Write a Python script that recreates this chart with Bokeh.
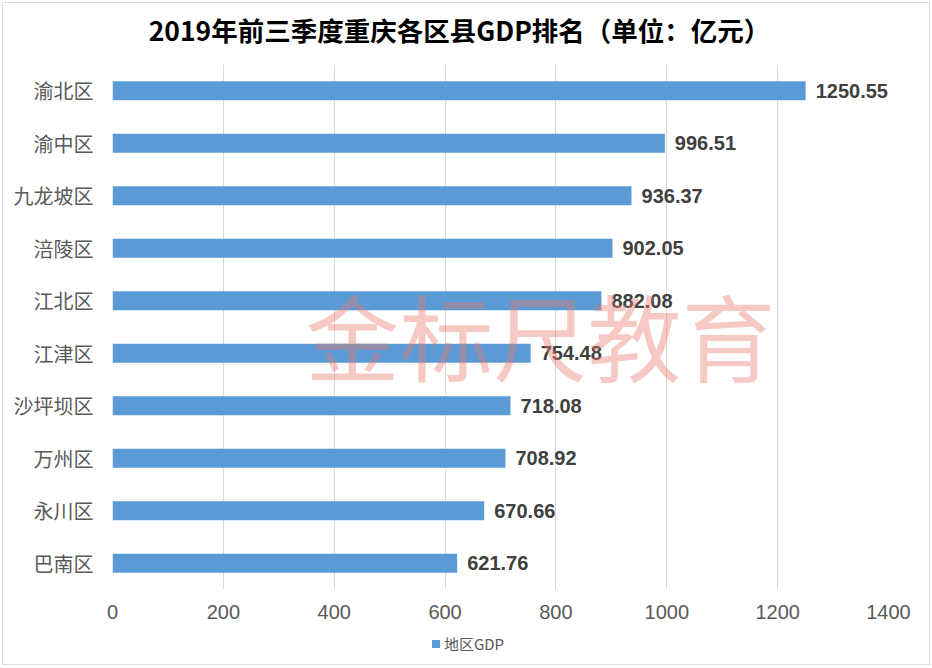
from bokeh.plotting import figure
from bokeh.models import FixedTicker, ColumnDataSource, Div
from bokeh.layouts import column
from bokeh.core.properties import value
from bokeh.embed import file_html
from bokeh.resources import INLINE

districts = ["渝北区", "渝中区", "九龙坡区", "涪陵区", "江北区", "江津区", "沙坪坝区", "万州区", "永川区", "巴南区"]
gdp = [1250.55, 996.51, 936.37, 902.05, 882.08, 754.48, 718.08, 708.92, 670.66, 621.76]
x_ticks = [0, 200, 400, 600, 800, 1000, 1200, 1400]
title_text = "2019年前三季度重庆各区县GDP排名（单位：亿元）"
legend_label = "地区GDP"
watermark = "金标尺教育"
bar_color = "#5B9BD5"

labels = [f"{v:.2f}" for v in gdp]
src = ColumnDataSource(dict(d=districts, v=gdp, t=labels))

p = figure(width=926, height=571, output_backend="svg", toolbar_location=None,
           y_range=list(reversed(districts)), x_range=(0, 1400),
           min_border_left=109, min_border_right=41, min_border_top=7, min_border_bottom=39)
p.outline_line_color = None
p.background_fill_color = "white"
p.border_fill_color = "white"

bars = p.hbar(y="d", right="v", left=0, height=0.36, source=src, color=bar_color, line_color=None)

p.text(x="v", y="d", text="t", source=src, x_offset=10, text_baseline="middle", text_align="left",
       text_font=value("Liberation Sans"), text_font_size="20px", text_font_style="bold", text_color="#404040")

p.text(x=[772], y=["江津区"], text=[watermark], y_offset=-19, text_baseline="middle", text_align="center",
       text_font=value("Noto Sans CJK SC"), text_font_size="94px", text_color="#E8786E", text_alpha=0.4)

p.xaxis.ticker = FixedTicker(ticks=x_ticks)
p.xaxis.axis_line_color = None
p.xaxis.major_tick_line_color = None
p.xaxis.minor_tick_line_color = None
p.xaxis.major_label_text_font = "Liberation Sans"
p.xaxis.major_label_text_font_size = "20px"
p.xaxis.major_label_text_color = "#595959"
p.xaxis.major_label_standoff = 9

p.yaxis.axis_line_color = None
p.yaxis.major_tick_line_color = None
p.yaxis.minor_tick_line_color = None
p.yaxis.major_label_text_font = "Noto Sans CJK SC"
p.yaxis.major_label_text_font_size = "20px"
p.yaxis.major_label_text_color = "#595959"
p.yaxis.major_label_standoff = 13

p.xgrid.grid_line_color = "#d9d9d9"
p.ygrid.grid_line_color = None

title_html = (
    '<div style="width:926px;height:54px;line-height:54px;text-align:center;padding-right:13px;'
    'box-sizing:border-box;white-space:nowrap;color:#000000;font-size:26.5px;font-weight:bold;'
    'font-family:\'Noto Sans CJK SC\';">'
    f'{title_text}</div>'
)
title_div = Div(text=title_html, width=926, height=54, margin=0)

legend_html = (
    '<div style="width:926px;height:36px;line-height:30px;text-align:center;padding-left:4px;box-sizing:border-box;">'
    f'<span style="display:inline-block;width:8px;height:8px;background:{bar_color};margin-right:4px;vertical-align:middle;"></span>'
    f'<span style="color:#595959;font-size:15px;font-family:\'Noto Sans CJK SC\';vertical-align:middle;">{legend_label}</span>'
    '</div>'
)
legend_div = Div(text=legend_html, width=926, height=36, margin=0)

layout = column(title_div, p, legend_div, spacing=0,
                styles={"border": "1px solid #d9d9d9", "margin-left": "2px", "margin-top": "2px",
                        "background-color": "white"})

open("out.html", "w").write(file_html(layout, INLINE))
